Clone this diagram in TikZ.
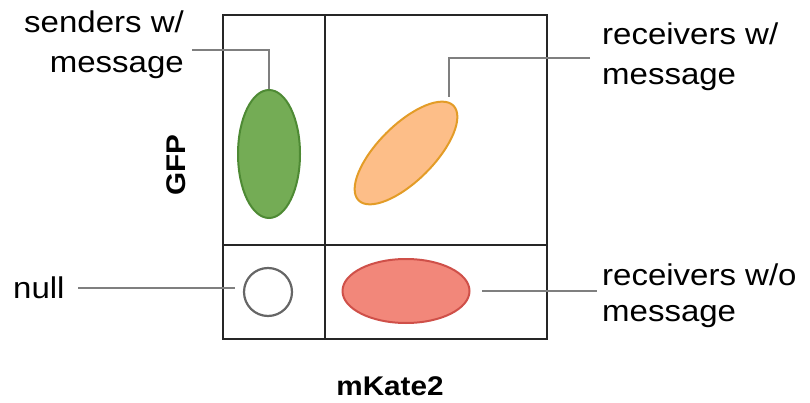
\documentclass[tikz,border=0pt]{standalone}
\usepackage{fontspec}
\setmainfont[FakeStretch=1.1]{Liberation Sans}
\usetikzlibrary{shapes.geometric}
\definecolor{framecol}{HTML}{262626}
\definecolor{leadcol}{HTML}{7F7F7F}
\definecolor{greenfill}{HTML}{74AC55}
\definecolor{greenline}{HTML}{4E8A34}
\definecolor{orangefill}{HTML}{FDBE88}
\definecolor{orangeline}{HTML}{E39C27}
\definecolor{redfill}{HTML}{F2877A}
\definecolor{redline}{HTML}{CF5049}
\definecolor{nullline}{HTML}{666666}
\begin{document}
\begin{tikzpicture}[x=1pt,y=-1pt,
  frame/.style={draw=framecol,line width=2pt},
  leader/.style={draw=leadcol,line width=1.8pt},
  lbl/.style={inner sep=0pt,font=\fontsize{30}{40}\selectfont},
  axislbl/.style={inner sep=0pt,font=\fontsize{27}{32}\selectfont\bfseries},
  pop/.style={ellipse,inner sep=0pt,line width=2pt}]
\useasboundingbox (0,0) rectangle (810,403);

% gating grid
\draw[frame] (223,15) rectangle (547,339);
\draw[frame] (325,15) -- (325,339);
\draw[frame] (223,245) -- (547,245);

% populations
\node[pop,draw=greenline,fill=greenfill,minimum width=62pt,minimum height=128pt] (green) at (269,154) {};
\node[pop,draw=orangeline,fill=orangefill,minimum width=134pt,minimum height=56pt,rotate=45] (orange) at (406,153) {};
\node[pop,draw=redline,fill=redfill,minimum width=127pt,minimum height=64pt] (red) at (406,291) {};
\node[circle,draw=nullline,fill=white,line width=2.2pt,minimum size=48pt,inner sep=0pt] (nullc) at (268,292) {};

% labels (base anchor sits on the last line)
\node[lbl,align=right,anchor=base east] (senders) at (184,73) {senders w/\\message};
\node[lbl,align=left,anchor=base west] (recvA) at (602,85) {receivers w/\\message};
\node[lbl,align=left,anchor=base west,font=\fontsize{30}{36}\selectfont] (recvB) at (602,321) {receivers w/o\\message};
\node[lbl,anchor=base west] (nulllbl) at (13,298) {null};
\node[axislbl,rotate=90,anchor=base] (gfp) at (185,165) {GFP};
\node[axislbl,anchor=base] (mkate) at (390,395) {mKate2};

% leader lines
\coordinate (sendTip) at (192,50);
\coordinate (recvATip) at (590,58);
\coordinate (orangeTop) at (449,97);
\coordinate (nullTip) at (78,288);
\coordinate (nullEnd) at (235,288);
\coordinate (redEnd) at (482,291);
\coordinate (recvBTip) at (597,291);
\draw[leader] (sendTip) -| (green.north);
\draw[leader] (recvATip) -| (orangeTop);
\draw[leader] (nullTip) -- (nullEnd);
\draw[leader] (redEnd) -- (recvBTip);
\end{tikzpicture}
\end{document}
